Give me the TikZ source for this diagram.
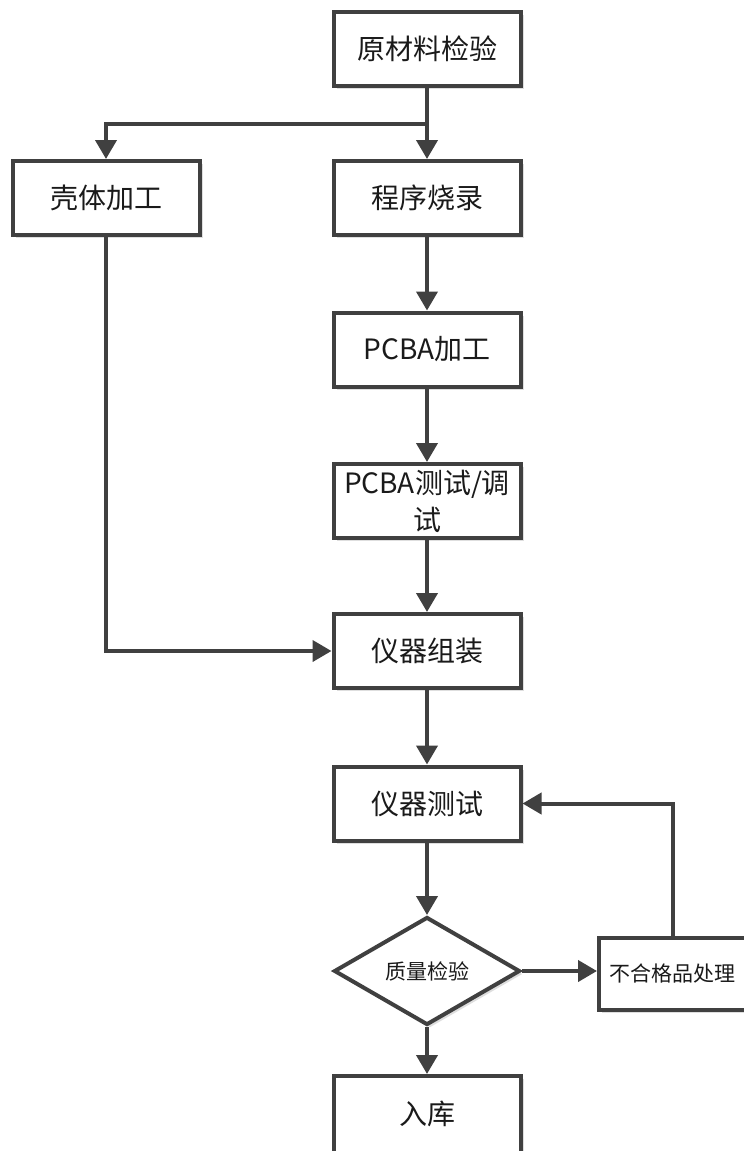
\documentclass[tikz,border=0pt]{standalone}
\usepackage{fontspec}
\setmainfont{Noto Sans CJK SC}
\usetikzlibrary{arrows.meta,shapes.geometric,shadows}
\definecolor{lc}{HTML}{404040}
\definecolor{tc}{HTML}{1A1A1A}
\tikzset{
  stepbox/.style={draw=lc, line width=4pt, fill=white, text=tc,
    minimum width=187pt, minimum height=74pt, inner sep=0pt,
    font=\fontsize{28}{37}\selectfont, align=center,
    drop shadow={shadow xshift=3pt, shadow yshift=-3pt, fill=black!25, opacity=0.5}},
  smallbox/.style={stepbox, minimum width=147pt, minimum height=72pt,
    font=\fontsize{21}{26}\selectfont},
  decide/.style={draw=lc, line width=4pt, fill=white, text=tc, diamond,
    aspect=1.7, minimum width=186pt, minimum height=108pt, inner sep=0pt,
    font=\fontsize{21}{26}\selectfont,
    drop shadow={shadow xshift=3pt, shadow yshift=-3pt, fill=black!25, opacity=0.5}},
  conn/.style={draw=lc, line width=4pt, -{Triangle[length=19pt,width=21pt]}},
  plain/.style={draw=lc, line width=4pt}
}
\begin{document}
\begin{tikzpicture}[x=1pt,y=-1pt]
\clip (0,0) rectangle (744,1151);
\fill[white] (0,0) rectangle (744,1151);
\node[stepbox] (n1) at (427,49) {原材料检验};
\node[stepbox] (n2) at (106,198) {壳体加工};
\node[stepbox] (n3) at (427,198) {程序烧录};
\node[stepbox] (n4) at (427,349.5) {PCBA加工};
\node[stepbox] (n5) at (427,501) {PCBA测试/调\\试};
\node[stepbox] (n6) at (427,651) {仪器组装};
\node[stepbox] (n7) at (427,803.5) {仪器测试};
\node[decide] (d) at (427,971) {质量检验};
\node[smallbox] (n9) at (672.5,973.5) {不合格品处理};
\node[stepbox, minimum height=80pt, text depth=6pt] (n10) at (427,1116) {入库};
\coordinate (br) at (427,124);
\draw[conn] (n1.south) -- (n3.north);
\draw[conn] (br) -| (n2.north);
\draw[conn] (n3.south) -- (n4.north);
\draw[conn] (n4.south) -- (n5.north);
\draw[conn] (n5.south) -- (n6.north);
\draw[conn] (n2.south) |- (n6.west);
\draw[conn] (n6.south) -- (n7.north);
\draw[conn] (n7.south) -- (d.north);
\draw[conn] (d.east) -- (n9.west |- d.east);
\draw[conn] (n9.north) |- (n7.east);
\draw[conn] (d.south) -- (n10.north);
\end{tikzpicture}
\end{document}
